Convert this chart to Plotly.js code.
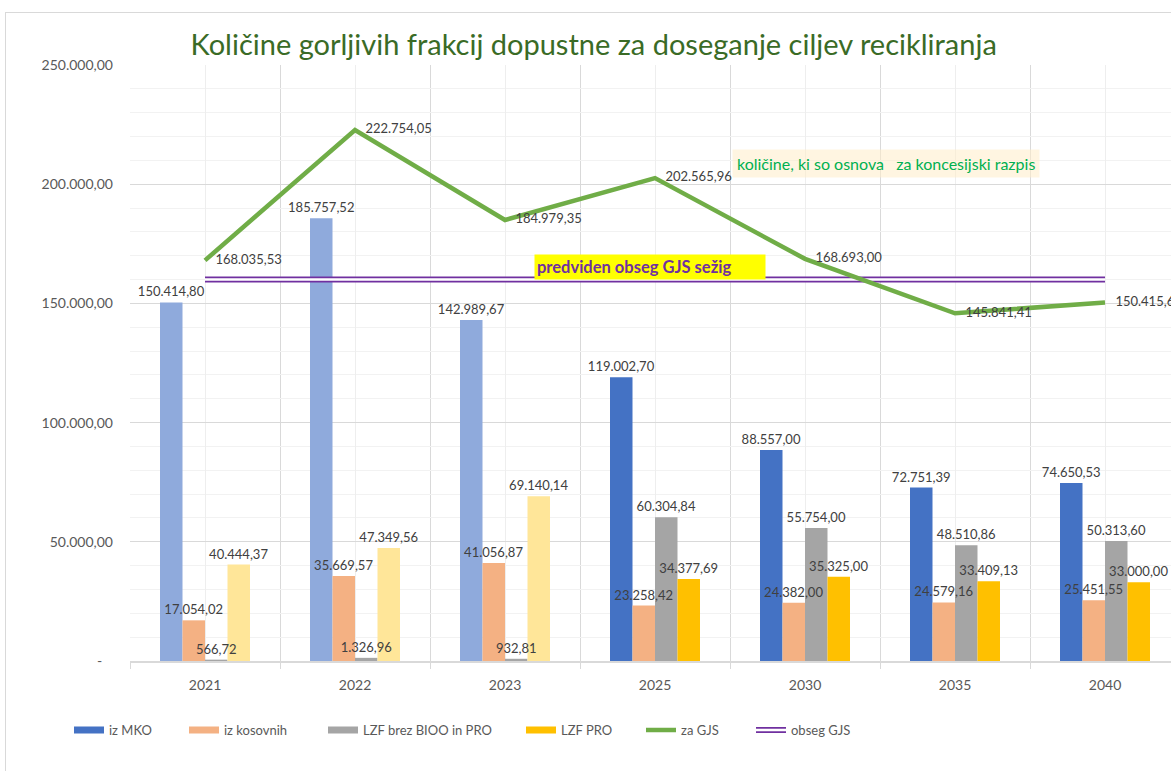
<!DOCTYPE html>
<html>
<head>
<meta charset="utf-8">
<script src="https://cdn.plot.ly/plotly-3.0.1.min.js"></script>
<style>
  html, body { margin: 0; padding: 0; background: #ffffff; }
  #frame { position: absolute; left: 5px; top: 12px; width: 2000px; height: 2000px;
           border-left: 1px solid #d9d9d9; border-top: 1px solid #d9d9d9; z-index: 0; }
  #chart { position: absolute; left: 0; top: 0; width: 1171px; height: 771px; z-index: 1; }
</style>
</head>
<body>
<div id="frame"></div>
<div id="chart"></div>
<script>
// ---- data ----
const categories = ['2021', '2022', '2023', '2025', '2030', '2035', '2040'];
const izMKO      = [150414.80, 185757.52, 142989.67, 119002.70, 88557.00, 72751.39, 74650.53];
const izKosovnih = [17054.02, 35669.57, 41056.87, 23258.42, 24382.00, 24579.16, 25451.55];
const lzfBrez    = [566.72, 1326.96, 932.81, 60304.84, 55754.00, 48510.86, 50313.60];
const lzfPro     = [40444.37, 47349.56, 69140.14, 34377.69, 35325.00, 33409.13, 33000.00];
const zaGJS      = [168035.53, 222754.05, 184979.35, 202565.96, 168693.00, 145841.41, 150415.60];
const obsegGJS   = [160000, 160000, 160000, 160000, 160000, 160000, 160000];
const yTickVals  = [0, 50000, 100000, 150000, 200000, 250000];
const yTickText  = ['-\u00a0\u00a0\u00a0', '50.000,00', '100.000,00', '150.000,00', '200.000,00', '250.000,00'];

// ---- styles ----
const FONT = 'Lato, "Open Sans", sans-serif';
const xs = categories.map((c, i) => i);
const col = {
  mko:  ['#8FAADC', '#8FAADC', '#8FAADC', '#4472C4', '#4472C4', '#4472C4', '#4472C4'],
  kos:  ['#F4B183', '#F4B183', '#F4B183', '#F4B183', '#F4B183', '#F4B183', '#F4B183'],
  brez: ['#A5A5A5', '#A5A5A5', '#A5A5A5', '#A5A5A5', '#A5A5A5', '#A5A5A5', '#A5A5A5'],
  pro:  ['#FFE699', '#FFE699', '#FFE699', '#FFC000', '#FFC000', '#FFC000', '#FFC000']
};
const labelFont = { family: FONT, size: 13, color: '#404040' };

function barTrace(y, colors, name) {
  return {
    type: 'bar', x: xs, y: y, name: name, showlegend: false,
    marker: { color: colors, line: { width: 0 } }, hoverinfo: 'skip'
  };
}
// transparent copy on an overlaid axis so the labels sit above every bar
function barLabels(y, name) {
  return {
    type: 'bar', x: xs, y: y, name: name, showlegend: false, xaxis: 'x2',
    marker: { color: 'rgba(0,0,0,0)', line: { width: 0 } },
    texttemplate: '%{y:,.2f}', textposition: 'outside', textangle: 0,
    constraintext: 'none', cliponaxis: false, textfont: labelFont,
    hoverinfo: 'skip'
  };
}
function legendDummy(name, color, legend, width) {
  return {
    type: 'scatter', mode: 'lines', x: [null], y: [null], name: name,
    line: { color: color, width: width || 7 }, legend: legend, showlegend: true,
    hoverinfo: 'skip'
  };
}

const traces = [
  barTrace(izMKO, col.mko, 'iz MKO'),
  barTrace(izKosovnih, col.kos, 'iz kosovnih'),
  barTrace(lzfBrez, col.brez, 'LZF brez BIOO in PRO'),
  barTrace(lzfPro, col.pro, 'LZF PRO'),
  {
    type: 'scatter', mode: 'lines', x: xs, y: obsegGJS, name: 'obseg GJS',
    line: { color: '#7030A0', width: 6 }, legend: 'legend6', hoverinfo: 'skip'
  },
  {
    type: 'scatter', mode: 'lines', x: xs, y: obsegGJS, name: '',
    line: { color: '#ffffff', width: 2.5 }, legend: 'legend7', hoverinfo: 'skip'
  },
  {
    type: 'scatter', mode: 'lines+markers+text', x: xs, y: zaGJS, name: 'za GJS',
    line: { color: '#70AD47', width: 4.5 }, legend: 'legend5',
    marker: { size: 15, color: 'rgba(0,0,0,0)', line: { width: 0 } },
    texttemplate: '%{y:,.2f}', textposition: 'middle right', textfont: labelFont,
    cliponaxis: false, hoverinfo: 'skip'
  },
  barLabels(izMKO, 'iz MKO'),
  barLabels(izKosovnih, 'iz kosovnih'),
  barLabels(lzfBrez, 'LZF brez BIOO in PRO'),
  barLabels(lzfPro, 'LZF PRO'),
  legendDummy('iz MKO', '#4472C4', 'legend'),
  legendDummy('iz kosovnih', '#F4B183', 'legend2'),
  legendDummy('LZF brez BIOO in PRO', '#A5A5A5', 'legend3'),
  legendDummy('LZF PRO', '#FFC000', 'legend4')
];

function leg(x) {
  return {
    orientation: 'h', x: x, xanchor: 'left', y: -0.116, yanchor: 'middle',
    bgcolor: 'rgba(0,0,0,0)', borderwidth: 0,
    font: { family: FONT, size: 13, color: '#595959' }
  };
}
const L0 = 130, PW = 1041;
const px = p => (p - L0) / PW;

const layout = {
  width: 1171, height: 771,
  margin: { l: 130, r: 0, t: 65, b: 110, pad: 0 },
  paper_bgcolor: 'rgba(0,0,0,0)', plot_bgcolor: 'rgba(0,0,0,0)',
  separators: ',.',
  font: { family: FONT, color: '#595959' },
  title: {
    text: 'Količine gorljivih frakcij dopustne za doseganje ciljev recikliranja',
    font: { family: FONT, size: 29, color: '#3A6B26' },
    x: 0.507, xanchor: 'center', xref: 'container',
    y: 1 - 45 / 771, yanchor: 'middle', yref: 'container'
  },
  barmode: 'group', bargap: 0.4, bargroupgap: 0,
  xaxis: {
    range: [-0.5, 6.44], tickmode: 'array', tickvals: xs, ticktext: categories,
    showgrid: true, gridcolor: '#EEEEEE', gridwidth: 1,
    ticks: '', zeroline: false, showline: true, linecolor: '#D9D9D9', linewidth: 1.5,
    tickfont: { family: FONT, size: 14, color: '#595959' }, ticklabelstandoff: 11,
    minor: { tickmode: 'linear', tick0: -0.5, dtick: 1, showgrid: true, gridcolor: '#D9D9D9',
             gridwidth: 1, ticks: 'outside', ticklen: 6, tickcolor: '#D9D9D9', tickwidth: 1 },
    fixedrange: true
  },
  xaxis2: { overlaying: 'x', matches: 'x', visible: false, fixedrange: true },
  yaxis: {
    range: [0, 250000], tickmode: 'array', tickvals: yTickVals, ticktext: yTickText,
    showgrid: true, gridcolor: '#D9D9D9', gridwidth: 1, zeroline: false, ticks: '',
    tickfont: { family: FONT, size: 14, color: '#595959' }, ticklabelstandoff: 16,
    minor: { tickmode: 'linear', tick0: 0, dtick: 10000, showgrid: true, gridcolor: '#F2F2F2', gridwidth: 1 },
    fixedrange: true
  },
  legend:  leg(px(69)),
  legend2: leg(px(184)),
  legend3: leg(px(323)),
  legend4: leg(px(521)),
  legend5: leg(px(641)),
  legend6: leg(px(751)),
  legend7: leg(px(751)),
  annotations: [
    {
      xref: 'paper', yref: 'paper', x: px(886), y: (661 - 164) / 596, xanchor: 'center', yanchor: 'middle',
      text: 'količine, ki so osnova\u00a0\u00a0\u00a0za koncesijski razpis', showarrow: false,
      font: { family: FONT, size: 16, color: '#00B050' },
      bgcolor: 'rgba(255,236,200,0.55)', borderpad: 4
    },
    {
      xref: 'paper', yref: 'paper', x: px(650), y: (661 - 267) / 596, xanchor: 'center', yanchor: 'middle',
      text: '<b>predviden obseg GJS sežig\u00a0\u00a0\u00a0\u00a0\u00a0\u00a0\u00a0\u00a0</b>', showarrow: false,
      font: { family: FONT, size: 16.5, color: '#7030A0' },
      bgcolor: '#FFFF00', borderpad: 2
    }
  ]
};

Plotly.newPlot('chart', traces, layout, { displayModeBar: false, staticPlot: true });
</script>
</body>
</html>
